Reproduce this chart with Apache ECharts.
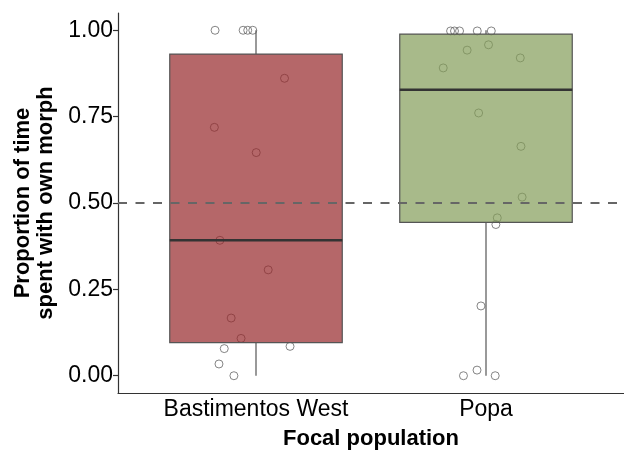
<!DOCTYPE html>
<html>
<head>
<meta charset="utf-8">
<script src="https://cdn.jsdelivr.net/npm/echarts@6/dist/echarts.min.js"></script>
<style>html,body{margin:0;padding:0;background:#fff}#c{width:624px;height:455px}</style>
</head>
<body>
<div id="c"></div>
<script>
// ---- data ----
const categories = ['Bastimentos West', 'Popa'];
const whiskerLow = [0.0, 0.0];
const q1 = [0.096, 0.444];
const median = [0.392, 0.828];
const q3 = [0.931, 0.989];
const whiskerHigh = [1.0, 1.0];
const yTicks = [0, 0.25, 0.5, 0.75, 1.0];
const refLine = 0.5;

// jittered observations: horizontal jitter offset (category units) and value
const bastJitter = [-0.178, -0.056, -0.036, -0.014, 0.124, -0.181, 0.001, -0.157, 0.053, -0.108, -0.065, -0.138, 0.148, -0.161, -0.096];
const bastValues = [1.0, 1.0, 1.0, 1.0, 0.861, 0.719, 0.646, 0.392, 0.3065, 0.167, 0.108, 0.0785, 0.085, 0.034, 0.0];
const popaJitter = [-0.154, -0.137, -0.115, -0.038, 0.023, 0.011, -0.082, 0.149, -0.186, -0.032, 0.152, 0.157, 0.049, 0.043, -0.022, -0.039, -0.098, 0.040];
const popaValues = [0.998, 0.998, 0.998, 0.998, 0.998, 0.958, 0.9425, 0.920, 0.891, 0.7606, 0.664, 0.517, 0.457, 0.4377, 0.202, 0.0163, 0.0, 0.0];

const boxFill = ['rgba(149,38,42,0.7)', 'rgba(131,156,88,0.7)'];

const boxData = categories.map((c, i) => [i + 1, whiskerLow[i], q1[i], median[i], q3[i], whiskerHigh[i]]);
const pointData = [];
bastValues.forEach((v, i) => pointData.push([1 + bastJitter[i], v]));
popaValues.forEach((v, i) => pointData.push([2 + popaJitter[i], v]));

const FONT = "'Liberation Sans', Arial, Helvetica, sans-serif";
const chart = echarts.init(document.getElementById('c'), null, { renderer: 'canvas' });
const halfW = 0.375;

chart.setOption({
  animation: false,
  backgroundColor: '#fff',
  grid: { left: 118, top: 13, width: 513, height: 383, containLabel: false },
  xAxis: {
    type: 'value', min: 0.4, max: 2.6,
    axisLine: { show: true, onZero: false, lineStyle: { color: '#333', width: 1.2 } },
    axisTick: { show: false },
    splitLine: { show: false },
    axisLabel: {
      customValues: [1, 2],
      formatter: v => categories[Math.round(v) - 1] || '',
      fontSize: 23, color: '#000', margin: 5, fontFamily: FONT
    },
    name: 'Focal population', nameLocation: 'middle', nameGap: 35,
    nameTextStyle: { fontSize: 22, fontWeight: 'bold', color: '#000', fontFamily: FONT }
  },
  yAxis: {
    type: 'value', min: -0.05, max: 1.05,
    axisLine: { show: true, onZero: false, lineStyle: { color: '#333', width: 1.2 } },
    axisTick: { show: true, customValues: yTicks, length: 5, lineStyle: { color: '#333', width: 1.2 } },
    splitLine: { show: false },
    axisLabel: {
      customValues: yTicks,
      formatter: v => v.toFixed(2),
      fontSize: 23, color: '#000', margin: 5, fontFamily: FONT
    },
    name: 'Proportion of time\nspent with own morph', nameLocation: 'middle', nameGap: 60,
    nameTextStyle: { fontSize: 22, fontWeight: 'bold', color: '#000', lineHeight: 23, fontFamily: FONT }
  },
  series: [
    {
      type: 'scatter', z: 2,
      data: pointData,
      symbol: 'circle', symbolSize: 8,
      itemStyle: { color: 'rgba(0,0,0,0)', borderColor: '#666', borderWidth: 1 }
    },
    {
      type: 'custom', z: 3,
      data: boxData,
      encode: { x: 0, y: [1, 2, 3, 4, 5] },
      renderItem: function (params, api) {
        const x = api.value(0);
        const lo = api.coord([x, api.value(1)]);
        const b1 = api.coord([x - halfW, api.value(2)]);
        const md = api.coord([x - halfW, api.value(3)]);
        const b3 = api.coord([x + halfW, api.value(4)]);
        const hi = api.coord([x, api.value(5)]);
        const cx = lo[0];
        const idx = params.dataIndex;
        return {
          type: 'group',
          children: [
            { type: 'line', shape: { x1: cx, y1: lo[1], x2: cx, y2: b1[1] }, style: { stroke: '#555', lineWidth: 1.2 } },
            { type: 'line', shape: { x1: cx, y1: b3[1], x2: cx, y2: hi[1] }, style: { stroke: '#555', lineWidth: 1.2 } },
            { type: 'rect', shape: { x: b1[0], y: b3[1], width: b3[0] - b1[0], height: b1[1] - b3[1] },
              style: { fill: boxFill[idx], stroke: '#555', lineWidth: 1.2 } },
            { type: 'line', shape: { x1: b1[0], y1: md[1], x2: b3[0], y2: md[1] }, style: { stroke: '#333', lineWidth: 2.4 } }
          ]
        };
      }
    },
    {
      type: 'scatter', z: 5, data: [],
      markLine: {
        silent: true, symbol: 'none', label: { show: false },
        lineStyle: { color: '#666', width: 2.2, type: [9, 8.5] },
        data: [{ yAxis: refLine }]
      }
    }
  ]
});
</script>
</body>
</html>
